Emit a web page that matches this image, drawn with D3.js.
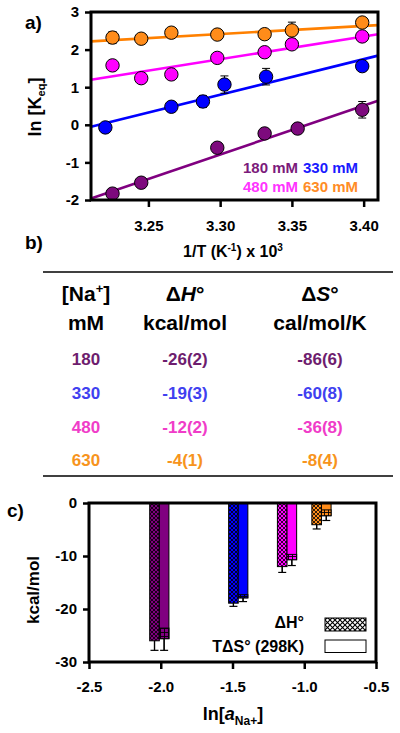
<!DOCTYPE html>
<html><head><meta charset="utf-8">
<script src="https://cdn.jsdelivr.net/npm/d3@7"></script>
<style>
html,body{margin:0;padding:0;background:#fff;}
text{font-family:"Liberation Sans",Arial,sans-serif;font-weight:bold;}
</style></head>
<body>
<svg id="c" width="400" height="733"></svg>
<script>
// ---------- panel a data ----------
const seriesNames = ["180 mM", "330 mM", "480 mM", "630 mM"];
const seriesColors = ["#7d0a7d", "#0000ff", "#ff00ff", "#ff8c1a"];
const lineColors = ["#800080", "#0000ff", "#ff00ff", "#ff8000"];
const legendColors = ["#7b1a7b", "#1a1aff", "#ff33ff", "#ff8c26"];
const invT180 = [3.225, 3.245, 3.298, 3.331, 3.354, 3.399];
const lnK180 = [-1.83, -1.54, -0.61, -0.23, -0.10, 0.40];
const err180 = [0.10, 0.12, 0.10, 0.12, 0.12, 0.22];
const invT330 = [3.220, 3.266, 3.288, 3.303, 3.332, 3.399];
const lnK330 = [-0.07, 0.48, 0.62, 1.07, 1.28, 1.56];
const err330 = [0.10, 0.12, 0.16, 0.23, 0.22, 0.10];
const invT480 = [3.225, 3.245, 3.266, 3.298, 3.331, 3.350, 3.399];
const lnK480 = [1.58, 1.24, 1.34, 1.78, 1.93, 2.14, 2.35];
const err480 = [0.10, 0.10, 0.12, 0.10, 0.10, 0.10, 0.10];
const invT630 = [3.225, 3.245, 3.266, 3.298, 3.331, 3.350, 3.399];
const lnK630 = [2.32, 2.29, 2.45, 2.40, 2.41, 2.51, 2.72];
const err630 = [0.16, 0.12, 0.10, 0.10, 0.12, 0.22, 0.12];
const fitX = [3.21, 3.41];
const fitStart = [-1.96, -0.05, 1.20, 2.22];
const fitEnd = [0.64, 1.84, 2.41, 2.65];
const xTicksA = [3.25, 3.30, 3.35, 3.40];
const yTicksA = [-2, -1, 0, 1, 2, 3];

// ---------- panel b data ----------
const tableNa = ["180", "330", "480", "630"];
const tableDH = ["-26(2)", "-19(3)", "-12(2)", "-4(1)"];
const tableDS = ["-86(6)", "-60(8)", "-36(8)", "-8(4)"];
const tableColors = ["#6e1d6e", "#4040f0", "#f03cc8", "#f7941d"];

// ---------- panel c data ----------
const lnA = [-2.01, -1.46, -1.12, -0.88];
const dH = [-26.0, -18.9, -12.0, -4.1];
const dHerr = [1.8, 0.6, 1.1, 0.8];
const TdS = [-25.6, -17.9, -10.7, -2.4];
const TdSerr = [2.2, 0.7, 1.1, 0.9];
const TdSgridFrom = [-23.6, -17.3, -9.7, -1.3];
const barColors = ["#800080", "#0000ff", "#ff00ff", "#ff8c1a"];
const xTicksC = [-2.5, -2.0, -1.5, -1.0, -0.5];
const yTicksC = [0, -10, -20, -30];

const svg = d3.select("#c");
svg.append("rect").attr("width", 400).attr("height", 733).attr("fill", "#fff");

// ================= PANEL A =================
const A = {l: 91, r: 378, t: 12, b: 200};
const xA = d3.scaleLinear().domain([3.21, 3.41]).range([A.l, A.r]);
const yA = d3.scaleLinear().domain([-2, 3]).range([A.b, A.t]);

svg.append("text").attr("x", 25).attr("y", 29).attr("font-size", 19).text("a)");

const gA = svg.append("g");
const series = [
  {x: invT180, y: lnK180, e: err180},
  {x: invT330, y: lnK330, e: err330},
  {x: invT480, y: lnK480, e: err480},
  {x: invT630, y: lnK630, e: err630}
];
series.forEach((s, i) => {
  gA.append("line")
    .attr("x1", xA(fitX[0])).attr("y1", yA(fitStart[i]))
    .attr("x2", xA(fitX[1])).attr("y2", yA(fitEnd[i]))
    .attr("stroke", lineColors[i]).attr("stroke-width", 2.6);
});
series.forEach((s, i) => {
  s.x.forEach((xv, j) => {
    const cx = xA(xv), y1 = yA(s.y[j] - s.e[j]), y2 = yA(s.y[j] + s.e[j]);
    gA.append("line").attr("x1", cx).attr("x2", cx).attr("y1", y1).attr("y2", y2).attr("stroke", "#000").attr("stroke-width", 1);
    [y1, y2].forEach(yy => gA.append("line").attr("x1", cx - 4).attr("x2", cx + 4).attr("y1", yy).attr("y2", yy).attr("stroke", "#000").attr("stroke-width", 1));
  });
});
series.forEach((s, i) => {
  gA.selectAll(null).data(s.x.map((xv, j) => [xv, s.y[j]])).enter().append("circle")
    .attr("cx", d => xA(d[0])).attr("cy", d => yA(d[1])).attr("r", 6.7)
    .attr("fill", seriesColors[i]).attr("stroke", "#000").attr("stroke-width", 1);
});

function styleAxis(g) {
  g.select(".domain").remove();
  g.selectAll(".tick line").attr("stroke", "#000").attr("stroke-width", 2.5);
  g.selectAll(".tick text").attr("font-size", 15).attr("font-weight", "bold")
    .attr("font-family", '"Liberation Sans",Arial,sans-serif').attr("fill", "#000");
}
const axA_x = svg.append("g").attr("transform", `translate(0,${A.b})`)
  .call(d3.axisBottom(xA).tickValues(xTicksA).tickFormat(d3.format(".2f")).tickSize(7).tickPadding(13));
styleAxis(axA_x);
const axA_y = svg.append("g").attr("transform", `translate(${A.l},0)`)
  .call(d3.axisLeft(yA).tickValues(yTicksA).tickFormat(d => String(d)).tickSize(6).tickPadding(6));
styleAxis(axA_y);
svg.append("rect").attr("x", A.l).attr("y", A.t).attr("width", A.r - A.l).attr("height", A.b - A.t)
  .attr("fill", "none").attr("stroke", "#000").attr("stroke-width", 3);

const legA = [[0, 243, 173], [1, 303, 173], [2, 243, 192], [3, 303, 192]];
legA.forEach(([i, x, y]) => {
  svg.append("text").attr("x", x).attr("y", y).attr("font-size", 15).attr("fill", legendColors[i]).text(seriesNames[i]);
});

const yt = svg.append("text").attr("transform", "translate(41,107) rotate(-90)").attr("text-anchor", "middle").attr("font-size", 18);
yt.append("tspan").text("ln [K");
yt.append("tspan").attr("font-size", 11).attr("dy", 4).text("eq");
yt.append("tspan").attr("dy", -4).text("]");

const xt = svg.append("text").attr("x", 233).attr("y", 257).attr("text-anchor", "middle").attr("font-size", 16);
xt.append("tspan").text("1/T (K");
xt.append("tspan").attr("font-size", 10).attr("dy", -6).text("-1");
xt.append("tspan").attr("dy", 6).text(") x 10");
xt.append("tspan").attr("font-size", 10).attr("dy", -6).text("3");

// ================= PANEL B =================
svg.append("text").attr("x", 25).attr("y", 249).attr("font-size", 19).text("b)");
svg.append("line").attr("x1", 43).attr("x2", 393).attr("y1", 272).attr("y2", 272).attr("stroke", "#000").attr("stroke-width", 1.5);
svg.append("line").attr("x1", 43).attr("x2", 393).attr("y1", 476).attr("y2", 476).attr("stroke", "#000").attr("stroke-width", 1.5);
const colX = [86, 185, 320];
const h1 = svg.append("text").attr("x", colX[0]).attr("y", 301).attr("text-anchor", "middle").attr("font-size", 21);
h1.append("tspan").text("[Na");
h1.append("tspan").attr("font-size", 13).attr("dy", -8).text("+");
h1.append("tspan").attr("dy", 8).text("]");
const h2 = svg.append("text").attr("x", colX[1]).attr("y", 301).attr("text-anchor", "middle").attr("font-size", 21);
h2.append("tspan").text("Δ");
h2.append("tspan").attr("font-style", "italic").text("H");
h2.append("tspan").text("°");
const h3 = svg.append("text").attr("x", colX[2]).attr("y", 301).attr("text-anchor", "middle").attr("font-size", 21);
h3.append("tspan").text("Δ");
h3.append("tspan").attr("font-style", "italic").text("S");
h3.append("tspan").text("°");
[["mM", 0], ["kcal/mol", 1], ["cal/mol/K", 2]].forEach(([t, c]) => {
  svg.append("text").attr("x", colX[c]).attr("y", 330).attr("text-anchor", "middle").attr("font-size", 21).text(t);
});
const rowY = [365, 399, 433, 466];
tableNa.forEach((n, i) => {
  [n, tableDH[i], tableDS[i]].forEach((t, c) => {
    svg.append("text").attr("x", colX[c]).attr("y", rowY[i]).attr("text-anchor", "middle")
      .attr("font-size", 17).attr("fill", tableColors[i]).text(t);
  });
});

// ================= PANEL C =================
svg.append("text").attr("x", 7).attr("y", 517).attr("font-size", 19).text("c)");
const C = {l: 89, r: 376, t: 503, b: 662};
const xC = d3.scaleLinear().domain([-2.5, -0.5]).range([C.l, C.r]);
const yC = d3.scaleLinear().domain([-30, 0]).range([C.b, C.t]);
const barW = 0.067;

const defs = svg.append("defs");
barColors.forEach((col, i) => {
  const p = defs.append("pattern").attr("id", "hatch" + i).attr("patternUnits", "userSpaceOnUse")
    .attr("width", 4).attr("height", 4);
  p.append("rect").attr("width", 4).attr("height", 4).attr("fill", col);
  p.append("path").attr("d", "M0,0L4,4M4,0L0,4").attr("stroke", "#000").attr("stroke-width", 0.8);
  const q = defs.append("pattern").attr("id", "grid" + i).attr("patternUnits", "userSpaceOnUse")
    .attr("width", 4).attr("height", 4);
  q.append("rect").attr("width", 4).attr("height", 4).attr("fill", col);
  q.append("path").attr("d", "M0,0.5H4M0.5,0V4").attr("stroke", "#000").attr("stroke-width", 0.9);
});
const pw = defs.append("pattern").attr("id", "hatchW").attr("patternUnits", "userSpaceOnUse").attr("width", 5).attr("height", 5);
pw.append("rect").attr("width", 5).attr("height", 5).attr("fill", "#fff");
pw.append("path").attr("d", "M0,0L5,5M5,0L0,5").attr("stroke", "#000").attr("stroke-width", 1.1);

const gC = svg.append("g");
lnA.forEach((a, i) => {
  [[a - barW / 2, dH[i], dHerr[i]], [a + barW / 2, TdS[i], TdSerr[i]]].forEach(([xc, v, e]) => {
    const cx = xC(xc);
    gC.append("line").attr("x1", cx).attr("x2", cx).attr("y1", yC(v + e)).attr("y2", yC(v - e)).attr("stroke", "#000").attr("stroke-width", 1.2);
    gC.append("line").attr("x1", cx - 4).attr("x2", cx + 4).attr("y1", yC(v - e)).attr("y2", yC(v - e)).attr("stroke", "#000").attr("stroke-width", 1.2);
  });
  gC.append("rect").attr("x", xC(a - barW)).attr("y", yC(0)).attr("width", xC(a) - xC(a - barW))
    .attr("height", yC(dH[i]) - yC(0)).attr("fill", `url(#hatch${i})`).attr("stroke", "#000").attr("stroke-width", 1);
  gC.append("rect").attr("x", xC(a)).attr("y", yC(0)).attr("width", xC(a + barW) - xC(a))
    .attr("height", yC(TdS[i]) - yC(0)).attr("fill", barColors[i]).attr("stroke", "#000").attr("stroke-width", 1);
  gC.append("rect").attr("x", xC(a)).attr("y", yC(TdSgridFrom[i])).attr("width", xC(a + barW) - xC(a))
    .attr("height", yC(TdS[i]) - yC(TdSgridFrom[i])).attr("fill", `url(#grid${i})`).attr("stroke", "#000").attr("stroke-width", 1);
  [[a - barW / 2, dH[i], dHerr[i]], [a + barW / 2, TdS[i], TdSerr[i]]].forEach(([xc, v, e]) => {
    const cx = xC(xc);
    gC.append("line").attr("x1", cx).attr("x2", cx).attr("y1", yC(v)).attr("y2", yC(v - e)).attr("stroke", "#000").attr("stroke-width", 1.2);
  });
});

const axC_x = svg.append("g").attr("transform", `translate(0,${C.b})`)
  .call(d3.axisBottom(xC).tickValues(xTicksC).tickFormat(d => d.toFixed(1)).tickSize(7).tickPadding(12));
styleAxis(axC_x);
const axC_y = svg.append("g").attr("transform", `translate(${C.l},0)`)
  .call(d3.axisLeft(yC).tickValues(yTicksC).tickFormat(d => String(d)).tickSize(6).tickPadding(6));
styleAxis(axC_y);
svg.append("rect").attr("x", C.l).attr("y", C.t).attr("width", C.r - C.l).attr("height", C.b - C.t)
  .attr("fill", "none").attr("stroke", "#000").attr("stroke-width", 3);

svg.append("text").attr("x", 304).attr("y", 628).attr("text-anchor", "end").attr("font-size", 16).text("ΔH°");
svg.append("rect").attr("x", 325).attr("y", 618).attr("width", 41).attr("height", 13)
  .attr("fill", "url(#hatchW)").attr("stroke", "#000").attr("stroke-width", 1);
svg.append("text").attr("x", 304).attr("y", 652).attr("text-anchor", "end").attr("font-size", 16).text("TΔS° (298K)");
svg.append("rect").attr("x", 325).attr("y", 640).attr("width", 41).attr("height", 12.5)
  .attr("fill", "#fff").attr("stroke", "#000").attr("stroke-width", 1);

svg.append("text").attr("transform", "translate(39,590) rotate(-90)").attr("text-anchor", "middle").attr("font-size", 17).text("kcal/mol");
const xc = svg.append("text").attr("x", 233).attr("y", 720).attr("text-anchor", "middle").attr("font-size", 18);
xc.append("tspan").text("ln[");
xc.append("tspan").attr("font-style", "italic").text("a");
xc.append("tspan").attr("font-size", 12).attr("dy", 5).text("Na+");
xc.append("tspan").attr("dy", -5).text("]");
</script>
</body></html>
